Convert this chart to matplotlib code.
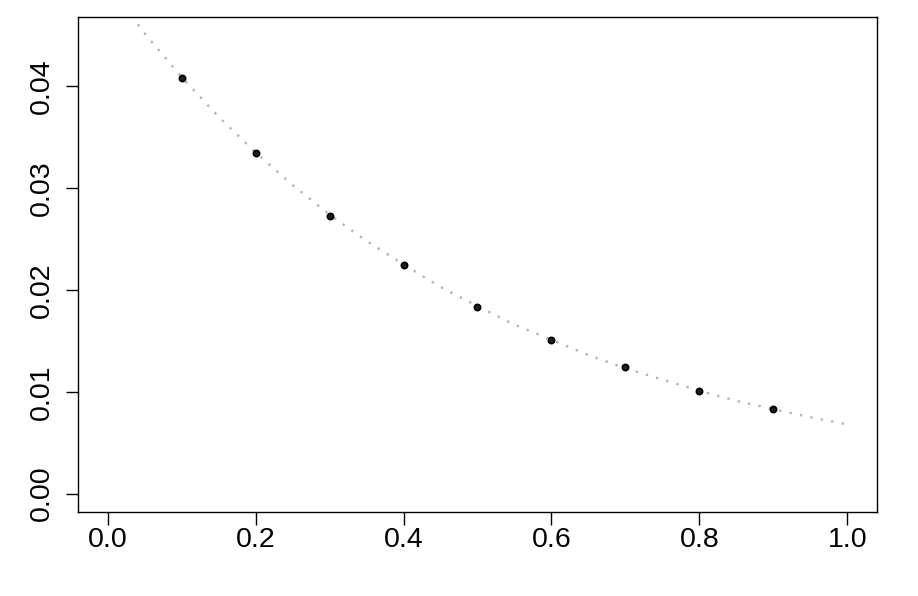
import matplotlib
matplotlib.use("Agg")
import matplotlib.pyplot as plt

# observed points
pts_x = [0.1, 0.2, 0.3, 0.4, 0.5, 0.6, 0.7, 0.8, 0.9]
pts_y = [0.0408, 0.0334, 0.0273, 0.0224, 0.0183, 0.0151, 0.0124, 0.0101, 0.0083]

# fitted curve
curve_x = [0.00, 0.05, 0.10, 0.15, 0.20, 0.25, 0.30, 0.35, 0.40, 0.45, 0.50,
           0.55, 0.60, 0.65, 0.70, 0.75, 0.80, 0.85, 0.90, 0.95, 1.00]
curve_y = [0.0500, 0.0452, 0.0409, 0.0370, 0.0335, 0.0303, 0.0274, 0.0248,
           0.0225, 0.0203, 0.0184, 0.0166, 0.0151, 0.0136, 0.0123, 0.0112,
           0.0101, 0.0091, 0.0083, 0.0075, 0.0068]

x_ticks = [0.0, 0.2, 0.4, 0.6, 0.8, 1.0]
y_ticks = [0.00, 0.01, 0.02, 0.03, 0.04]

plt.rcParams["font.family"] = ["Liberation Sans", "DejaVu Sans"]

fig = plt.figure(figsize=(9.18, 5.96), dpi=100)
ax = fig.add_axes([0.085, 0.141, 0.8703, 0.8305])

ax.plot(curve_x, curve_y, linestyle=(0, (1, 3.5)), color="#b4b4b4", linewidth=1.7)
ax.plot(pts_x, pts_y, linestyle="none", marker="o", markersize=4.4,
        markerfacecolor="#222222", markeredgecolor="black", markeredgewidth=1.3)

ax.set_xlim(-0.04, 1.04)
ax.set_ylim(-0.0018, 0.0468)
ax.set_xticks(x_ticks)
ax.set_xticklabels([f"{v:.1f}" for v in x_ticks])
ax.set_yticks(y_ticks)
ax.set_yticklabels([f"{v:.2f}" for v in y_ticks], rotation=90, va="center")

ax.tick_params(axis="both", direction="out", length=9, width=1.0,
               labelsize=20.5, color="black")
ax.tick_params(axis="x", pad=2)
ax.tick_params(axis="y", pad=8)
for s in ax.spines.values():
    s.set_linewidth(1.0)

fig.savefig("out.png", dpi=100)
